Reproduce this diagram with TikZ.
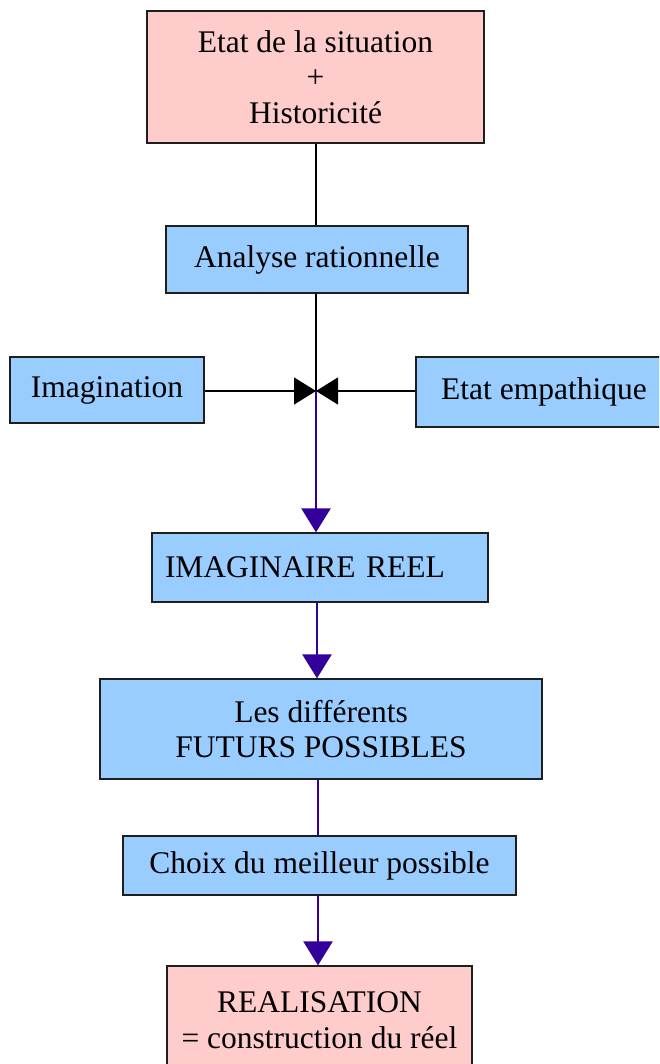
\documentclass[tikz,border=0pt]{standalone}
\usepackage{fontspec}
\setmainfont{Liberation Serif}
\usetikzlibrary{arrows.meta}
\definecolor{boxblue}{RGB}{153,204,255}
\definecolor{boxpink}{RGB}{255,204,204}
\definecolor{flowpurple}{RGB}{51,0,153}
\definecolor{edgegray}{RGB}{30,30,30}
\tikzset{
  box/.style={draw=edgegray, line width=1.3pt, rectangle, inner sep=0pt, align=center,
    font=\fontsize{31.5}{35.5}\selectfont, text=black},
  bluebox/.style={box, fill=boxblue},
  pinkbox/.style={box, fill=boxpink},
  blkline/.style={draw=black, line width=1.3pt},
  blkarrow/.style={blkline, -{Triangle[length=22pt,width=27pt]}},
  purpline/.style={draw=flowpurple, line width=2.6pt},
  purparrow/.style={purpline, -{Triangle[length=24pt,width=29pt]}},
}
\begin{document}
\begin{tikzpicture}[x=1pt,y=-1pt]
\useasboundingbox (0,0) rectangle (659,1064);
\clip (0,0) rectangle (659,1064);
\fill[white] (0,0) rectangle (659,1064);
\node[pinkbox, minimum width=337pt, minimum height=132pt] (top) at (315.5,77) {Etat de la situation\\+\\Historicit\'e};
\node[bluebox, minimum width=302pt, minimum height=67pt] (ana) at (317,259.5) {Analyse rationnelle};
\node[bluebox, minimum width=194pt, minimum height=66pt] (imag) at (107,390) {Imagination};
\node[bluebox, minimum width=256pt, minimum height=70pt] (emp) at (544,392) {Etat empathique};
\coordinate (j) at (316,391);
\node[bluebox, minimum width=336pt, minimum height=69pt, text width=310pt, align=left, inner xsep=13pt] (imr) at (320,567.5) {IMAGINAIRE REEL};
\node[bluebox, minimum width=442pt, minimum height=100pt] (diff) at (321,729) {Les diff\'erents\\FUTURS POSSIBLES};
\node[bluebox, minimum width=393pt, minimum height=59pt] (choix) at (319.5,865.5) {Choix du meilleur possible};
\node[pinkbox, minimum width=305pt, minimum height=108pt] (real) at (319.5,1020) {REALISATION\\= construction du r\'eel};
\draw[blkline] (top.south -| j) -- (ana.north -| j);
\draw[blkline] (ana.south -| j) -- (j);
\draw[blkarrow] (imag.east |- j) -- (j);
\draw[blkarrow] (emp.west |- j) -- (j);
\draw[purparrow] (j) -- (j |- imr.north);
\draw[purparrow] ([xshift=1pt]imr.south -| j) -- ([xshift=1pt]j |- diff.north);
\draw[purpline] ([xshift=2pt]diff.south -| j) -- ([xshift=2pt]j |- choix.north);
\draw[purparrow] ([xshift=2pt]choix.south -| j) -- ([xshift=2pt]j |- real.north);
\end{tikzpicture}
\end{document}
